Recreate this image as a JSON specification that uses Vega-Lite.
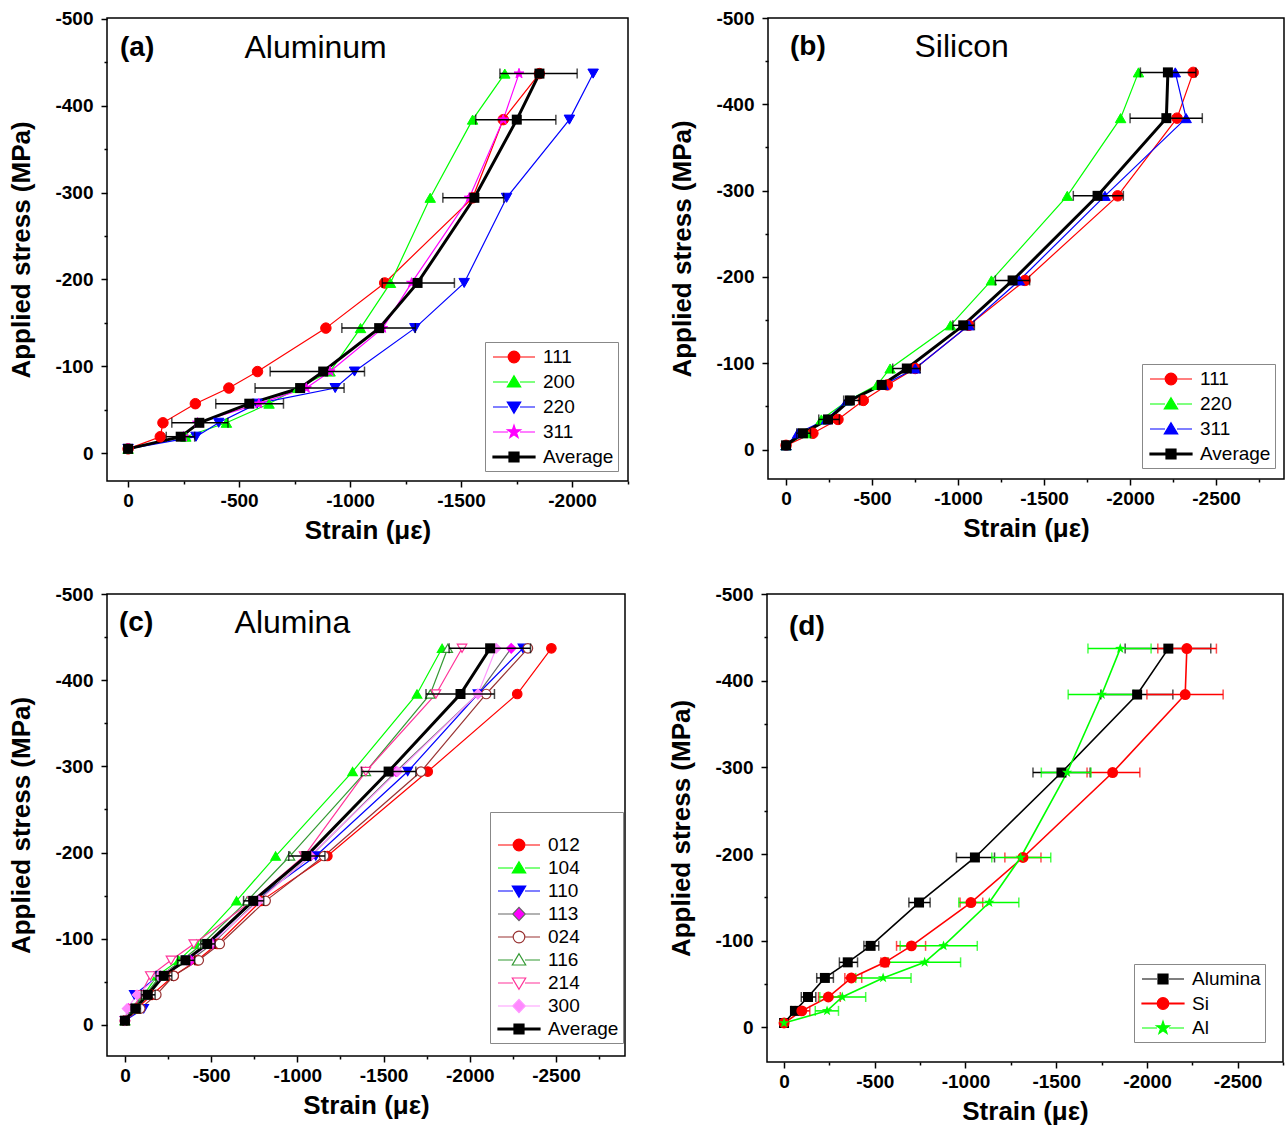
{
  "$schema": "https://vega.github.io/schema/vega-lite/v6.json",
  "background": "white",
  "padding": {"left": 8, "top": 8, "right": 0, "bottom": 0},
  "config": {
    "font": "Liberation Sans",
    "view": {"stroke": "black", "strokeWidth": 1.5},
    "axis": {"grid": false, "domain": false, "tickColor": "black", "tickWidth": 1.5, "labelFont": "Liberation Sans", "labelFontSize": 19, "labelFontWeight": "bold", "labelColor": "black", "titleFont": "Liberation Sans", "titleFontSize": 26, "titleFontWeight": "bold", "titleColor": "black", "labelOverlap": false, "labelBound": false, "labelFlush": false},
    "axisY": {"titlePadding": 20, "labelPadding": 8},
    "axisX": {"titlePadding": 7, "labelPadding": 4},
    "legend": {"symbolSize": 400, "symbolStrokeWidth": 1.2, "labelFont": "Liberation Sans", "labelFontSize": 19, "labelColor": "black", "labelOffset": 18, "padding": 4, "symbolOffset": 14, "strokeColor": "#888888", "rowPadding": 4},
    "title": {"anchor": "start", "frame": "group", "orient": "top", "font": "Liberation Sans", "fontSize": 28, "fontWeight": "bold", "color": "black", "subtitleFont": "Liberation Sans", "subtitleFontSize": 32, "subtitleFontWeight": "normal", "subtitleColor": "black", "subtitlePadding": -29, "offset": -56, "baseline": "top"}
  },
  "datasets": {
    "al": [
      {"series": "111", "strain": 0, "stress": -5}, {"series": "111", "strain": -145, "stress": -19}, {"series": "111", "strain": -157, "stress": -35}, {"series": "111", "strain": -303, "stress": -57}, {"series": "111", "strain": -454, "stress": -75}, {"series": "111", "strain": -583, "stress": -94}, {"series": "111", "strain": -891, "stress": -144}, {"series": "111", "strain": -1156, "stress": -196}, {"series": "111", "strain": -1552, "stress": -294}, {"series": "111", "strain": -1690, "stress": -384}, {"series": "111", "strain": -1853, "stress": -437},
      {"series": "200", "strain": 0, "stress": -5}, {"series": "200", "strain": -260, "stress": -19}, {"series": "200", "strain": -443, "stress": -35}, {"series": "200", "strain": -635, "stress": -57}, {"series": "200", "strain": -765, "stress": -75}, {"series": "200", "strain": -910, "stress": -94}, {"series": "200", "strain": -1047, "stress": -144}, {"series": "200", "strain": -1182, "stress": -196}, {"series": "200", "strain": -1361, "stress": -294}, {"series": "200", "strain": -1552, "stress": -384}, {"series": "200", "strain": -1697, "stress": -437},
      {"series": "220", "strain": 0, "stress": -5}, {"series": "220", "strain": -306, "stress": -19}, {"series": "220", "strain": -408, "stress": -35}, {"series": "220", "strain": -581, "stress": -57}, {"series": "220", "strain": -933, "stress": -75}, {"series": "220", "strain": -1020, "stress": -94}, {"series": "220", "strain": -1292, "stress": -144}, {"series": "220", "strain": -1514, "stress": -196}, {"series": "220", "strain": -1705, "stress": -294}, {"series": "220", "strain": -1988, "stress": -384}, {"series": "220", "strain": -2095, "stress": -437},
      {"series": "311", "strain": 0, "stress": -5}, {"series": "311", "strain": -250, "stress": -19}, {"series": "311", "strain": -313, "stress": -35}, {"series": "311", "strain": -589, "stress": -57}, {"series": "311", "strain": -803, "stress": -75}, {"series": "311", "strain": -910, "stress": -94}, {"series": "311", "strain": -1147, "stress": -144}, {"series": "311", "strain": -1277, "stress": -196}, {"series": "311", "strain": -1537, "stress": -294}, {"series": "311", "strain": -1690, "stress": -384}, {"series": "311", "strain": -1761, "stress": -437}
    ],
    "si": [
      {"series": "111", "strain": 0, "stress": -5}, {"series": "111", "strain": -156, "stress": -19}, {"series": "111", "strain": -302, "stress": -35}, {"series": "111", "strain": -449, "stress": -57}, {"series": "111", "strain": -589, "stress": -75}, {"series": "111", "strain": -751, "stress": -94}, {"series": "111", "strain": -1063, "stress": -144}, {"series": "111", "strain": -1389, "stress": -196}, {"series": "111", "strain": -1928, "stress": -294}, {"series": "111", "strain": -2273, "stress": -384}, {"series": "111", "strain": -2367, "stress": -437},
      {"series": "220", "strain": 0, "stress": -5}, {"series": "220", "strain": -117, "stress": -19}, {"series": "220", "strain": -205, "stress": -35}, {"series": "220", "strain": -361, "stress": -57}, {"series": "220", "strain": -530, "stress": -75}, {"series": "220", "strain": -605, "stress": -94}, {"series": "220", "strain": -956, "stress": -144}, {"series": "220", "strain": -1194, "stress": -196}, {"series": "220", "strain": -1635, "stress": -294}, {"series": "220", "strain": -1945, "stress": -384}, {"series": "220", "strain": -2049, "stress": -437},
      {"series": "311", "strain": 0, "stress": -5}, {"series": "311", "strain": -68, "stress": -19}, {"series": "311", "strain": -234, "stress": -35}, {"series": "311", "strain": -355, "stress": -57}, {"series": "311", "strain": -566, "stress": -75}, {"series": "311", "strain": -751, "stress": -94}, {"series": "311", "strain": -1063, "stress": -144}, {"series": "311", "strain": -1356, "stress": -196}, {"series": "311", "strain": -1854, "stress": -294}, {"series": "311", "strain": -2326, "stress": -384}, {"series": "311", "strain": -2263, "stress": -437}
    ],
    "alumina": [
      {"series": "012", "strain": 0, "stress": -5}, {"series": "012", "strain": -70, "stress": -19}, {"series": "012", "strain": -157, "stress": -35}, {"series": "012", "strain": -283, "stress": -57}, {"series": "012", "strain": -419, "stress": -75}, {"series": "012", "strain": -535, "stress": -94}, {"series": "012", "strain": -790, "stress": -144}, {"series": "012", "strain": -1174, "stress": -196}, {"series": "012", "strain": -1756, "stress": -294}, {"series": "012", "strain": -2275, "stress": -384}, {"series": "012", "strain": -2473, "stress": -437},
      {"series": "104", "strain": 0, "stress": -5}, {"series": "104", "strain": -50, "stress": -19}, {"series": "104", "strain": -109, "stress": -35}, {"series": "104", "strain": -186, "stress": -57}, {"series": "104", "strain": -312, "stress": -75}, {"series": "104", "strain": -415, "stress": -94}, {"series": "104", "strain": -647, "stress": -144}, {"series": "104", "strain": -874, "stress": -196}, {"series": "104", "strain": -1320, "stress": -294}, {"series": "104", "strain": -1694, "stress": -384}, {"series": "104", "strain": -1839, "stress": -437},
      {"series": "110", "strain": 0, "stress": -5}, {"series": "110", "strain": -109, "stress": -19}, {"series": "110", "strain": -54, "stress": -35}, {"series": "110", "strain": -196, "stress": -57}, {"series": "110", "strain": -360, "stress": -75}, {"series": "110", "strain": -486, "stress": -94}, {"series": "110", "strain": -748, "stress": -144}, {"series": "110", "strain": -1107, "stress": -196}, {"series": "110", "strain": -1640, "stress": -294}, {"series": "110", "strain": -2047, "stress": -384}, {"series": "110", "strain": -2308, "stress": -437},
      {"series": "113", "strain": 0, "stress": -5}, {"series": "113", "strain": -21, "stress": -19}, {"series": "113", "strain": -128, "stress": -35}, {"series": "113", "strain": -205, "stress": -57}, {"series": "113", "strain": -380, "stress": -75}, {"series": "113", "strain": -506, "stress": -94}, {"series": "113", "strain": -767, "stress": -144}, {"series": "113", "strain": -1078, "stress": -196}, {"series": "113", "strain": -1572, "stress": -294}, {"series": "113", "strain": -2047, "stress": -384}, {"series": "113", "strain": -2240, "stress": -437},
      {"series": "024", "strain": 0, "stress": -5}, {"series": "024", "strain": -89, "stress": -19}, {"series": "024", "strain": -182, "stress": -35}, {"series": "024", "strain": -283, "stress": -57}, {"series": "024", "strain": -428, "stress": -75}, {"series": "024", "strain": -550, "stress": -94}, {"series": "024", "strain": -816, "stress": -144}, {"series": "024", "strain": -1155, "stress": -196}, {"series": "024", "strain": -1717, "stress": -294}, {"series": "024", "strain": -2095, "stress": -384}, {"series": "024", "strain": -2337, "stress": -437},
      {"series": "116", "strain": 0, "stress": -5}, {"series": "116", "strain": -41, "stress": -19}, {"series": "116", "strain": -118, "stress": -35}, {"series": "116", "strain": -205, "stress": -57}, {"series": "116", "strain": -331, "stress": -75}, {"series": "116", "strain": -448, "stress": -94}, {"series": "116", "strain": -709, "stress": -144}, {"series": "116", "strain": -957, "stress": -196}, {"series": "116", "strain": -1397, "stress": -294}, {"series": "116", "strain": -1771, "stress": -384}, {"series": "116", "strain": -1872, "stress": -437},
      {"series": "214", "strain": 0, "stress": -5}, {"series": "214", "strain": -50, "stress": -19}, {"series": "214", "strain": -89, "stress": -35}, {"series": "214", "strain": -147, "stress": -57}, {"series": "214", "strain": -267, "stress": -75}, {"series": "214", "strain": -399, "stress": -94}, {"series": "214", "strain": -738, "stress": -144}, {"series": "214", "strain": -1039, "stress": -196}, {"series": "214", "strain": -1397, "stress": -294}, {"series": "214", "strain": -1804, "stress": -384}, {"series": "214", "strain": -1955, "stress": -437},
      {"series": "300", "strain": 0, "stress": -5}, {"series": "300", "strain": -12, "stress": -19}, {"series": "300", "strain": -70, "stress": -35}, {"series": "300", "strain": -196, "stress": -57}, {"series": "300", "strain": -360, "stress": -75}, {"series": "300", "strain": -496, "stress": -94}, {"series": "300", "strain": -777, "stress": -144}, {"series": "300", "strain": -1074, "stress": -196}, {"series": "300", "strain": -1581, "stress": -294}, {"series": "300", "strain": -2047, "stress": -384}, {"series": "300", "strain": -2153, "stress": -437}
    ],
    "comp": [
      {"series": "Alumina", "strain": 0, "stress": -5},
      {"series": "Alumina", "strain": -60, "stress": -19, "lo": -40, "hi": -90},
      {"series": "Alumina", "strain": -132, "stress": -35, "lo": -95, "hi": -175},
      {"series": "Alumina", "strain": -225, "stress": -57, "lo": -180, "hi": -272},
      {"series": "Alumina", "strain": -351, "stress": -75, "lo": -305, "hi": -405},
      {"series": "Alumina", "strain": -477, "stress": -94, "lo": -440, "hi": -522},
      {"series": "Alumina", "strain": -744, "stress": -144, "lo": -688, "hi": -805},
      {"series": "Alumina", "strain": -1052, "stress": -196, "lo": -950, "hi": -1160},
      {"series": "Alumina", "strain": -1529, "stress": -294, "lo": -1372, "hi": -1687},
      {"series": "Alumina", "strain": -1946, "stress": -384, "lo": -1746, "hi": -2143},
      {"series": "Alumina", "strain": -2118, "stress": -437, "lo": -1880, "hi": -2352},
      {"series": "Si", "strain": 0, "stress": -5},
      {"series": "Si", "strain": -98, "stress": -19, "lo": -62, "hi": -142},
      {"series": "Si", "strain": -244, "stress": -35, "lo": -190, "hi": -310},
      {"series": "Si", "strain": -371, "stress": -57, "lo": -335, "hi": -428},
      {"series": "Si", "strain": -556, "stress": -75, "lo": -534, "hi": -575},
      {"series": "Si", "strain": -702, "stress": -94, "lo": -620, "hi": -780},
      {"series": "Si", "strain": -1030, "stress": -144, "lo": -970, "hi": -1095},
      {"series": "Si", "strain": -1317, "stress": -196, "lo": -1217, "hi": -1416},
      {"series": "Si", "strain": -1811, "stress": -294, "lo": -1670, "hi": -1961},
      {"series": "Si", "strain": -2211, "stress": -384, "lo": -2000, "hi": -2420},
      {"series": "Si", "strain": -2220, "stress": -437, "lo": -2060, "hi": -2383},
      {"series": "Al", "strain": 0, "stress": -5},
      {"series": "Al", "strain": -237, "stress": -19, "lo": -172, "hi": -300},
      {"series": "Al", "strain": -321, "stress": -35, "lo": -197, "hi": -450},
      {"series": "Al", "strain": -546, "stress": -57, "lo": -395, "hi": -700},
      {"series": "Al", "strain": -775, "stress": -75, "lo": -572, "hi": -973},
      {"series": "Al", "strain": -879, "stress": -94, "lo": -640, "hi": -1065},
      {"series": "Al", "strain": -1131, "stress": -144, "lo": -963, "hi": -1294},
      {"series": "Al", "strain": -1304, "stress": -196, "lo": -1145, "hi": -1470},
      {"series": "Al", "strain": -1560, "stress": -294, "lo": -1418, "hi": -1692},
      {"series": "Al", "strain": -1751, "stress": -384, "lo": -1566, "hi": -1927},
      {"series": "Al", "strain": -1853, "stress": -437, "lo": -1675, "hi": -2023}
    ]
  },
  "resolve": {"scale": {"x": "independent", "y": "independent", "color": "independent", "shape": "independent", "fill": "independent", "stroke": "independent"}, "legend": {"color": "independent", "shape": "independent", "fill": "independent", "stroke": "independent"}},
  "spacing": 40,
  "vconcat": [
    {
      "spacing": 39,
      "resolve": {"scale": {"x": "independent", "y": "independent", "color": "independent", "shape": "independent", "fill": "independent", "stroke": "independent"}, "legend": {"color": "independent", "shape": "independent", "fill": "independent", "stroke": "independent"}},
      "hconcat": [
        {
          "title": {"text": "(a)", "subtitle": "\u200b\u00a0\u00a0\u00a0\u00a0\u00a0\u00a0\u00a0\u00a0\u00a0\u00a0\u00a0\u00a0\u00a0\u00a0Aluminum", "dx": 13},
          "width": 521, "height": 463,
          "data": {"name": "al"},
          "encoding": {
            "x": {"field": "strain", "type": "quantitative", "title": "Strain (με)", "scale": {"domain": [-2252, 95], "reverse": true, "nice": false, "zero": false}, "axis": {"values": [0, -250, -500, -750, -1000, -1250, -1500, -1750, -2000, -2250], "labelExpr": "datum.value % 500 === 0 ? '' + datum.value : ''", "tickSize": {"condition": {"test": "datum.value % 500 === 0", "value": 6}, "value": 3}}},
            "y": {"field": "stress", "type": "quantitative", "title": "Applied stress (MPa)", "scale": {"domain": [-501, 32], "reverse": true, "nice": false, "zero": false}, "axis": {"values": [-500, -450, -400, -350, -300, -250, -200, -150, -100, -50, 0], "labelExpr": "datum.value % 100 === 0 ? '' + datum.value : ''", "tickSize": {"condition": {"test": "datum.value % 100 === 0", "value": 6}, "value": 3}}}
          },
          "layer": [
            {
              "mark": {"type": "line", "strokeWidth": 1.2},
              "encoding": {
                "order": {"field": "stress", "type": "quantitative", "sort": "descending"},
                "color": {"field": "series", "type": "nominal", "scale": {"domain": ["111", "200", "220", "311", "Average"], "range": ["#ff0000", "#00ff00", "#0000ff", "#ff00ff", "#000000"]},
                  "legend": {"orient": "none", "legendX": 378, "legendY": 324, "title": null, "rowPadding": 4,
                    "encode": {"symbols": {"update": {
                      "size": {"value": 400},
                      "shape": {"signal": "{'111':'M-2.1,0H-0.6M0.6,0H2.1M-0.58,0A0.58,0.58 0 1,1 0.58,0A0.58,0.58 0 1,1 -0.58,0Z','200':'M-2.1,0H-0.6M0.6,0H2.1M0,-0.63L0.67,0.5L-0.67,0.5Z','220':'M-2.1,0H-0.6M0.6,0H2.1M0,0.63L0.67,-0.5L-0.67,-0.5Z','311':'M-2.1,0H-0.6M0.6,0H2.1M0,-0.69L0.159,-0.218L0.656,-0.213L0.257,0.083L0.406,0.558L0,0.27L-0.406,0.558L-0.257,0.083L-0.656,-0.213L-0.159,-0.218Z','Average':'M-2.1,-0.1H2.1V0.1H-2.1ZM-0.5,-0.5H0.5V0.5H-0.5Z'}[datum.value]"},
                      "fill": {"signal": "{'111':'#ff0000','200':'#00ff00','220':'#0000ff','311':'#ff00ff','Average':'#000000'}[datum.value]"},
                      "stroke": {"signal": "{'111':'#ff0000','200':'#00ff00','220':'#0000ff','311':'#ff00ff','Average':'#000000'}[datum.value]"},
                      "opacity": {"value": 1}
                    }}}
                  }
                }
              }
            },
            {
              "data": {"name": "comp"},
              "transform": [{"filter": "datum.series === 'Al'"}],
              "mark": {"type": "line", "strokeWidth": 3, "color": "black"},
              "encoding": {"order": {"field": "stress", "type": "quantitative", "sort": "descending"}}
            },
            {
              "mark": {"type": "point", "filled": true, "size": 110, "opacity": 1, "strokeWidth": 1},
              "encoding": {
                "shape": {"field": "series", "type": "nominal", "legend": null, "scale": {"domain": ["111", "200", "220", "311"], "range": ["circle", "triangle-up", "triangle-down", "M0,-1L0.235,-0.324L0.951,-0.309L0.38,0.124L0.588,0.809L0,0.4L-0.588,0.809L-0.38,0.124L-0.951,-0.309L-0.235,-0.324Z"]}},
                "fill": {"field": "series", "type": "nominal", "legend": null, "scale": {"domain": ["111", "200", "220", "311"], "range": ["#ff0000", "#00ff00", "#0000ff", "#ff00ff"]}},
                "stroke": {"field": "series", "type": "nominal", "legend": null, "scale": {"domain": ["111", "200", "220", "311"], "range": ["#ff0000", "#00ff00", "#0000ff", "#ff00ff"]}}
              }
            },
            {
              "data": {"name": "comp"},
              "transform": [{"filter": "datum.series === 'Al' && isValid(datum.lo)"}],
              "mark": {"type": "errorbar", "orient": "horizontal", "color": "black", "thickness": 1.5, "ticks": {"size": 10, "thickness": 1.5, "color": "black"}},
              "encoding": {
                "x": {"field": "lo", "type": "quantitative", "title": "Strain (με)", "scale": {"domain": [-2252, 95], "reverse": true, "nice": false, "zero": false}},
                "x2": {"field": "hi"}
              }
            },
            {
              "data": {"name": "comp"},
              "transform": [{"filter": "datum.series === 'Al'"}],
              "mark": {"type": "square", "size": 100, "color": "black", "opacity": 1}
            }
          ]
        },
        {
          "title": {"text": "(b)", "subtitle": "\u200b\u00a0\u00a0\u00a0\u00a0\u00a0\u00a0\u00a0\u00a0\u00a0\u00a0\u00a0\u00a0\u00a0\u00a0Silicon", "dx": 22},
          "width": 516, "height": 461,
          "data": {"name": "si"},
          "encoding": {
            "x": {"field": "strain", "type": "quantitative", "title": "Strain (με)", "scale": {"domain": [-2895, 105], "reverse": true, "nice": false, "zero": false}, "axis": {"values": [0, -250, -500, -750, -1000, -1250, -1500, -1750, -2000, -2250, -2500, -2750], "labelExpr": "datum.value % 500 === 0 ? '' + datum.value : ''", "tickSize": {"condition": {"test": "datum.value % 500 === 0", "value": 6}, "value": 3}}},
            "y": {"field": "stress", "type": "quantitative", "title": "Applied stress (MPa)", "scale": {"domain": [-500, 34], "reverse": true, "nice": false, "zero": false}, "axis": {"values": [-500, -450, -400, -350, -300, -250, -200, -150, -100, -50, 0], "labelExpr": "datum.value % 100 === 0 ? '' + datum.value : ''", "tickSize": {"condition": {"test": "datum.value % 100 === 0", "value": 6}, "value": 3}}}
          },
          "layer": [
            {
              "mark": {"type": "line", "strokeWidth": 1.2},
              "encoding": {
                "order": {"field": "stress", "type": "quantitative", "sort": "descending"},
                "color": {"field": "series", "type": "nominal", "scale": {"domain": ["111", "220", "311", "Average"], "range": ["#ff0000", "#00ff00", "#0000ff", "#000000"]},
                  "legend": {"orient": "none", "legendX": 374, "legendY": 346, "title": null, "rowPadding": 4,
                    "encode": {"symbols": {"update": {
                      "size": {"value": 400},
                      "shape": {"signal": "{'111':'M-2.1,0H-0.6M0.6,0H2.1M-0.58,0A0.58,0.58 0 1,1 0.58,0A0.58,0.58 0 1,1 -0.58,0Z','220':'M-2.1,0H-0.6M0.6,0H2.1M0,-0.63L0.67,0.5L-0.67,0.5Z','311':'M-2.1,0H-0.6M0.6,0H2.1M0,-0.63L0.67,0.5L-0.67,0.5Z','Average':'M-2.1,-0.1H2.1V0.1H-2.1ZM-0.5,-0.5H0.5V0.5H-0.5Z'}[datum.value]"},
                      "fill": {"signal": "{'111':'#ff0000','220':'#00ff00','311':'#0000ff','Average':'#000000'}[datum.value]"},
                      "stroke": {"signal": "{'111':'#ff0000','220':'#00ff00','311':'#0000ff','Average':'#000000'}[datum.value]"},
                      "opacity": {"value": 1}
                    }}}
                  }
                }
              }
            },
            {
              "data": {"name": "comp"},
              "transform": [{"filter": "datum.series === 'Si'"}],
              "mark": {"type": "line", "strokeWidth": 3, "color": "black"},
              "encoding": {"order": {"field": "stress", "type": "quantitative", "sort": "descending"}}
            },
            {
              "mark": {"type": "point", "filled": true, "size": 110, "opacity": 1, "strokeWidth": 1},
              "encoding": {
                "shape": {"field": "series", "type": "nominal", "legend": null, "scale": {"domain": ["111", "220", "311"], "range": ["circle", "triangle-up", "triangle-up"]}},
                "fill": {"field": "series", "type": "nominal", "legend": null, "scale": {"domain": ["111", "220", "311"], "range": ["#ff0000", "#00ff00", "#0000ff"]}},
                "stroke": {"field": "series", "type": "nominal", "legend": null, "scale": {"domain": ["111", "220", "311"], "range": ["#ff0000", "#00ff00", "#0000ff"]}}
              }
            },
            {
              "data": {"name": "comp"},
              "transform": [{"filter": "datum.series === 'Si' && isValid(datum.lo)"}],
              "mark": {"type": "errorbar", "orient": "horizontal", "color": "black", "thickness": 1.5, "ticks": {"size": 10, "thickness": 1.5, "color": "black"}},
              "encoding": {
                "x": {"field": "lo", "type": "quantitative", "title": "Strain (με)", "scale": {"domain": [-2895, 105], "reverse": true, "nice": false, "zero": false}},
                "x2": {"field": "hi"}
              }
            },
            {
              "data": {"name": "comp"},
              "transform": [{"filter": "datum.series === 'Si'"}],
              "mark": {"type": "square", "size": 100, "color": "black", "opacity": 1}
            }
          ]
        }
      ]
    },
    {
      "spacing": 42,
      "resolve": {"scale": {"x": "independent", "y": "independent", "color": "independent", "shape": "independent", "fill": "independent", "stroke": "independent"}, "legend": {"color": "independent", "shape": "independent", "fill": "independent", "stroke": "independent"}},
      "hconcat": [
        {
          "title": {"text": "(c)", "subtitle": "\u200b\u00a0\u00a0\u00a0\u00a0\u00a0\u00a0\u00a0\u00a0\u00a0\u00a0\u00a0\u00a0\u00a0Alumina", "dx": 12},
          "width": 518, "height": 462,
          "data": {"name": "alumina"},
          "encoding": {
            "x": {"field": "strain", "type": "quantitative", "title": "Strain (με)", "scale": {"domain": [-2900, 104], "reverse": true, "nice": false, "zero": false}, "axis": {"values": [0, -250, -500, -750, -1000, -1250, -1500, -1750, -2000, -2250, -2500, -2750], "labelExpr": "datum.value % 500 === 0 ? '' + datum.value : ''", "tickSize": {"condition": {"test": "datum.value % 500 === 0", "value": 6}, "value": 3}}},
            "y": {"field": "stress", "type": "quantitative", "title": "Applied stress (MPa)", "scale": {"domain": [-500, 36], "reverse": true, "nice": false, "zero": false}, "axis": {"values": [-500, -450, -400, -350, -300, -250, -200, -150, -100, -50, 0], "labelExpr": "datum.value % 100 === 0 ? '' + datum.value : ''", "tickSize": {"condition": {"test": "datum.value % 100 === 0", "value": 6}, "value": 3}}}
          },
          "layer": [
            {
              "mark": {"type": "line", "strokeWidth": 1.2},
              "encoding": {
                "order": {"field": "stress", "type": "quantitative", "sort": "descending"},
                "color": {"field": "series", "type": "nominal", "scale": {"domain": ["012", "104", "110", "113", "024", "116", "214", "300", "Average"], "range": ["#ff0000", "#00ff00", "#0000ff", "#666666", "#993333", "#339933", "#ff3399", "#ff99ff", "#000000"]},
                  "legend": {"orient": "none", "legendX": 383, "legendY": 218, "title": " ", "titleFontSize": 14, "titlePadding": 4, "rowPadding": 2,
                    "encode": {"symbols": {"update": {
                      "size": {"value": 400},
                      "shape": {"signal": "{'012':'M-2.1,0H-0.6M0.6,0H2.1M-0.58,0A0.58,0.58 0 1,1 0.58,0A0.58,0.58 0 1,1 -0.58,0Z','104':'M-2.1,0H-0.6M0.6,0H2.1M0,-0.63L0.67,0.5L-0.67,0.5Z','110':'M-2.1,0H-0.6M0.6,0H2.1M0,0.63L0.67,-0.5L-0.67,-0.5Z','113':'M-2.1,0H-0.6M0.6,0H2.1M0,-0.67L0.63,0L0,0.67L-0.63,0Z','024':'M-2.1,0H-0.6M0.6,0H2.1M-0.58,0A0.58,0.58 0 1,1 0.58,0A0.58,0.58 0 1,1 -0.58,0Z','116':'M-2.1,0H-0.6M0.6,0H2.1M0,-0.63L0.67,0.5L-0.67,0.5Z','214':'M-2.1,0H-0.6M0.6,0H2.1M0,0.63L0.67,-0.5L-0.67,-0.5Z','300':'M-2.1,0H-0.6M0.6,0H2.1M0,-0.67L0.63,0L0,0.67L-0.63,0Z','Average':'M-2.1,-0.1H2.1V0.1H-2.1ZM-0.5,-0.5H0.5V0.5H-0.5Z'}[datum.value]"},
                      "fill": {"signal": "{'012':'#ff0000','104':'#00ff00','110':'#0000ff','113':'#ff00ff','024':'#ffffff','116':'#ffffff','214':'#ffffff','300':'#ff88ff','Average':'#000000'}[datum.value]"},
                      "stroke": {"signal": "{'012':'#ff0000','104':'#00ff00','110':'#0000ff','113':'#666666','024':'#993333','116':'#339933','214':'#ff3399','300':'#ff99ff','Average':'#000000'}[datum.value]"},
                      "opacity": {"value": 1}
                    }}}
                  }
                }
              }
            },
            {
              "data": {"name": "comp"},
              "transform": [{"filter": "datum.series === 'Alumina'"}],
              "mark": {"type": "line", "strokeWidth": 3, "color": "black"},
              "encoding": {"order": {"field": "stress", "type": "quantitative", "sort": "descending"}}
            },
            {
              "mark": {"type": "point", "filled": true, "size": 90, "opacity": 1, "strokeWidth": 1.2},
              "encoding": {
                "shape": {"field": "series", "type": "nominal", "legend": null, "scale": {"domain": ["012", "104", "110", "113", "024", "116", "214", "300"], "range": ["circle", "triangle-up", "triangle-down", "diamond", "circle", "triangle-up", "triangle-down", "diamond"]}},
                "fill": {"field": "series", "type": "nominal", "legend": null, "scale": {"domain": ["012", "104", "110", "113", "024", "116", "214", "300"], "range": ["#ff0000", "#00ff00", "#0000ff", "#ff00ff", "#ffffff", "#ffffff", "#ffffff", "#ff88ff"]}},
                "stroke": {"field": "series", "type": "nominal", "legend": null, "scale": {"domain": ["012", "104", "110", "113", "024", "116", "214", "300"], "range": ["#ff0000", "#00ff00", "#0000ff", "#ff00ff", "#993333", "#339933", "#ff3399", "#ff88ff"]}}
              }
            },
            {
              "data": {"name": "comp"},
              "transform": [{"filter": "datum.series === 'Alumina' && isValid(datum.lo)"}],
              "mark": {"type": "errorbar", "orient": "horizontal", "color": "black", "thickness": 1.5, "ticks": {"size": 10, "thickness": 1.5, "color": "black"}},
              "encoding": {
                "x": {"field": "lo", "type": "quantitative", "title": "Strain (με)", "scale": {"domain": [-2900, 104], "reverse": true, "nice": false, "zero": false}},
                "x2": {"field": "hi"}
              }
            },
            {
              "data": {"name": "comp"},
              "transform": [{"filter": "datum.series === 'Alumina'"}],
              "mark": {"type": "square", "size": 100, "color": "black", "opacity": 1}
            }
          ]
        },
        {
          "title": {"text": "(d)", "dx": 22},
          "width": 516, "height": 468,
          "data": {"name": "comp"},
          "encoding": {
            "x": {"field": "strain", "type": "quantitative", "title": "Strain (με)", "scale": {"domain": [-2750, 94], "reverse": true, "nice": false, "zero": false}, "axis": {"values": [0, -250, -500, -750, -1000, -1250, -1500, -1750, -2000, -2250, -2500, -2750], "labelExpr": "datum.value % 500 === 0 ? '' + datum.value : ''", "tickSize": {"condition": {"test": "datum.value % 500 === 0", "value": 6}, "value": 3}}},
            "y": {"field": "stress", "type": "quantitative", "title": "Applied stress (MPa)", "scale": {"domain": [-500, 40], "reverse": true, "nice": false, "zero": false}, "axis": {"values": [-500, -450, -400, -350, -300, -250, -200, -150, -100, -50, 0], "labelExpr": "datum.value % 100 === 0 ? '' + datum.value : ''", "tickSize": {"condition": {"test": "datum.value % 100 === 0", "value": 6}, "value": 3}}}
          },
          "layer": [
            {
              "mark": {"type": "line", "strokeWidth": 1.6},
              "encoding": {
                "order": {"field": "stress", "type": "quantitative", "sort": "descending"},
                "color": {"field": "series", "type": "nominal", "scale": {"domain": ["Alumina", "Si", "Al"], "range": ["#000000", "#ff0000", "#00ff00"]},
                  "legend": {"orient": "none", "legendX": 367, "legendY": 370, "title": null, "rowPadding": 3.5,
                    "encode": {"symbols": {"update": {
                      "size": {"value": 400},
                      "shape": {"signal": "{'Alumina':'M-2.1,0H-0.6M0.6,0H2.1M-0.5,-0.5H0.5V0.5H-0.5Z','Si':'M-2.1,-0.05H2.1V0.05H-2.1ZM-0.58,0A0.58,0.58 0 1,1 0.58,0A0.58,0.58 0 1,1 -0.58,0Z','Al':'M-2.1,0H-0.6M0.6,0H2.1M0,-0.69L0.159,-0.218L0.656,-0.213L0.257,0.083L0.406,0.558L0,0.27L-0.406,0.558L-0.257,0.083L-0.656,-0.213L-0.159,-0.218Z'}[datum.value]"},
                      "fill": {"signal": "{'Alumina':'#000000','Si':'#ff0000','Al':'#00ff00'}[datum.value]"},
                      "stroke": {"signal": "{'Alumina':'#000000','Si':'#ff0000','Al':'#00ff00'}[datum.value]"},
                      "opacity": {"value": 1}
                    }}}
                  }
                }
              }
            },
            {
              "transform": [{"filter": "datum.series === 'Alumina' && isValid(datum.lo)"}],
              "mark": {"type": "errorbar", "orient": "horizontal", "color": "black", "thickness": 1.5, "ticks": {"size": 10, "thickness": 1.5, "color": "black"}},
              "encoding": {"x": {"field": "lo", "type": "quantitative", "title": "Strain (με)", "scale": {"domain": [-2750, 94], "reverse": true, "nice": false, "zero": false}}, "x2": {"field": "hi"}}
            },
            {
              "transform": [{"filter": "datum.series === 'Si' && isValid(datum.lo)"}],
              "mark": {"type": "errorbar", "orient": "horizontal", "color": "#ff0000", "thickness": 1.5, "ticks": {"size": 10, "thickness": 1.5, "color": "#ff0000"}},
              "encoding": {"x": {"field": "lo", "type": "quantitative", "title": "Strain (με)", "scale": {"domain": [-2750, 94], "reverse": true, "nice": false, "zero": false}}, "x2": {"field": "hi"}}
            },
            {
              "transform": [{"filter": "datum.series === 'Al' && isValid(datum.lo)"}],
              "mark": {"type": "errorbar", "orient": "horizontal", "color": "#00ff00", "thickness": 1.5, "ticks": {"size": 10, "thickness": 1.5, "color": "#00ff00"}},
              "encoding": {"x": {"field": "lo", "type": "quantitative", "title": "Strain (με)", "scale": {"domain": [-2750, 94], "reverse": true, "nice": false, "zero": false}}, "x2": {"field": "hi"}}
            },
            {
              "transform": [{"filter": "datum.series === 'Alumina'"}],
              "mark": {"type": "square", "size": 100, "color": "#000000", "opacity": 1}
            },
            {
              "transform": [{"filter": "datum.series === 'Si'"}],
              "mark": {"type": "circle", "size": 120, "color": "#ff0000", "opacity": 1}
            },
            {
              "transform": [{"filter": "datum.series === 'Al'"}],
              "mark": {"type": "point", "filled": true, "size": 120, "color": "#00ff00", "opacity": 1, "shape": "M0,-1L0.235,-0.324L0.951,-0.309L0.38,0.124L0.588,0.809L0,0.4L-0.588,0.809L-0.38,0.124L-0.951,-0.309L-0.235,-0.324Z"}
            }
          ]
        }
      ]
    }
  ]
}
